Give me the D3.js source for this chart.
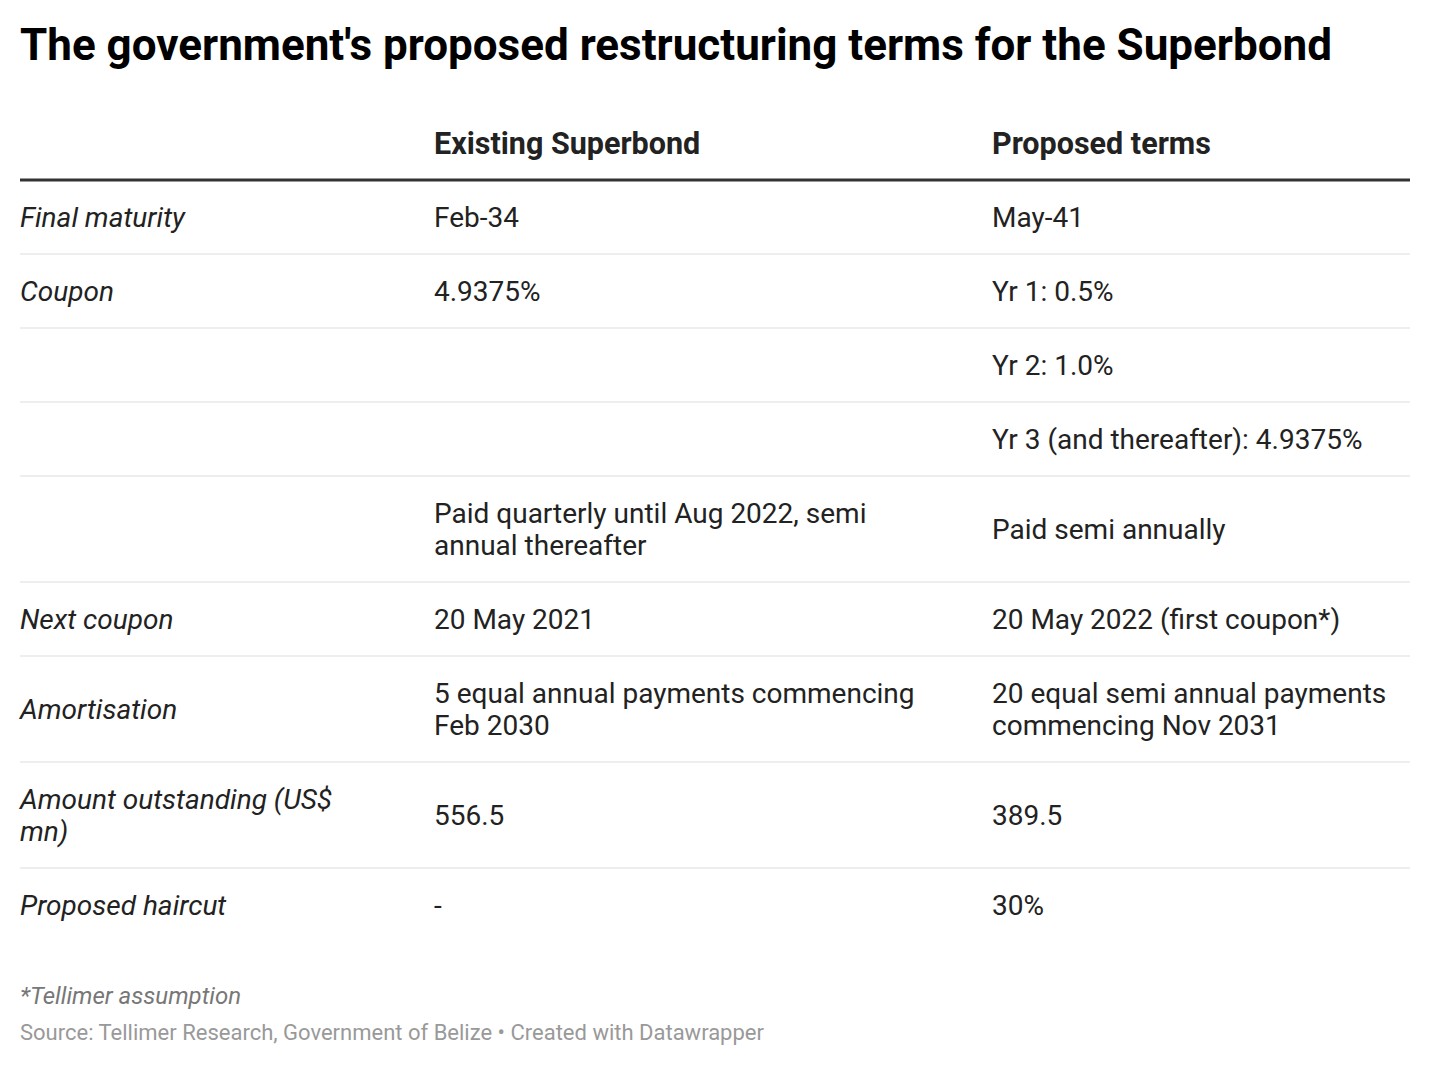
<!DOCTYPE html>
<html><head><meta charset="utf-8">
<script src="https://cdn.jsdelivr.net/npm/d3@7"></script>
<style>body{margin:0;background:#fff;font-family:Roboto,sans-serif}</style>
</head><body>
<svg id="chart" width="1430" height="1066"></svg>
<script>
var title = "The government's proposed restructuring terms for the Superbond";
var columns = ["", "Existing Superbond", "Proposed terms"];
var rowLabels = ["Final maturity", "Coupon", "", "", "", "Next coupon", "Amortisation", "Amount outstanding (US$\nmn)", "Proposed haircut"];
var existing = ["Feb-34", "4.9375%", "", "", "Paid quarterly until Aug 2022, semi\nannual thereafter", "20 May 2021", "5 equal annual payments commencing\nFeb 2030", "556.5", "-"];
var proposed = ["May-41", "Yr 1: 0.5%", "Yr 2: 1.0%", "Yr 3 (and thereafter): 4.9375%", "Paid semi annually", "20 May 2022 (first coupon*)", "20 equal semi annual payments\ncommencing Nov 2031", "389.5", "30%"];
var note = "*Tellimer assumption";
var source = "Source: Tellimer Research, Government of Belize \u2022 Created with Datawrapper";

var svg = d3.select("#chart");
var colX = [20, 434, 992], right = 1410, lineH = 32;

svg.append("text").attr("x", 20).attr("y", 60).attr("font-size", 44).attr("font-weight", 700)
  .attr("fill", "#000").text(title);

columns.forEach(function(c, i) {
  svg.append("text").attr("x", colX[i]).attr("y", 154).attr("font-size", 30.5).attr("font-weight", 700)
    .attr("fill", "#222").text(c);
});
svg.append("line").attr("x1", 20).attr("x2", right).attr("y1", 180).attr("y2", 180)
  .attr("stroke", "#333").attr("stroke-width", 3);

var rows = rowLabels.map(function(l, i) { return [l, existing[i], proposed[i]]; });
var y = 180;
rows.forEach(function(r, i) {
  var n = d3.max(r, function(s) { return s.split("\n").length; });
  var h = 74 + lineH * (n - 1);
  var mid = y + h / 2;
  r.forEach(function(s, j) {
    var lines = s.split("\n");
    var t = svg.append("text").attr("font-size", 28).attr("fill", "#222")
      .attr("font-style", j === 0 ? "italic" : "normal");
    lines.forEach(function(line, k) {
      t.append("tspan").attr("x", colX[j])
        .attr("y", mid + 10 + (k - (lines.length - 1) / 2) * lineH).text(line);
    });
  });
  y += h;
  if (i < rows.length - 1)
    svg.append("line").attr("x1", 20).attr("x2", right).attr("y1", y).attr("y2", y)
      .attr("stroke", "#ddd").attr("stroke-width", 1);
});

svg.append("text").attr("x", 20).attr("y", 1004).attr("font-size", 24).attr("font-style", "italic")
  .attr("fill", "#777").text(note);
svg.append("text").attr("x", 20).attr("y", 1040).attr("font-size", 22)
  .attr("fill", "#999").text(source);
</script>
</body></html>
